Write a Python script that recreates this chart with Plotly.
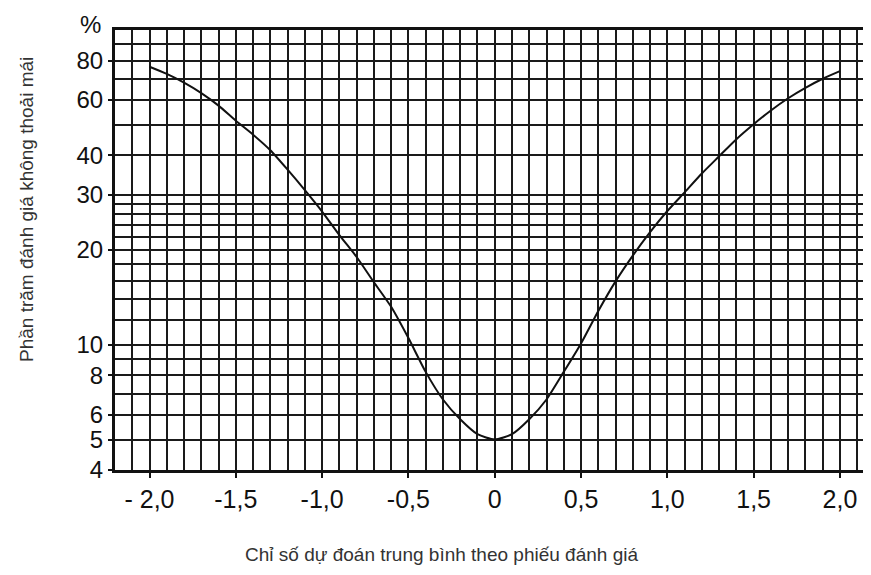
import math
import plotly.graph_objects as go

# --- data ---
pmv = [-2.0, -1.9, -1.8, -1.7, -1.6, -1.5, -1.4, -1.3, -1.2, -1.1, -1.0,
       -0.9, -0.8, -0.7, -0.6, -0.5, -0.4, -0.3, -0.2, -0.1, 0.0,
       0.1, 0.2, 0.3, 0.4, 0.5, 0.6, 0.7, 0.8, 0.9, 1.0,
       1.1, 1.2, 1.3, 1.4, 1.5, 1.6, 1.7, 1.8, 1.9, 2.0]
ppd = [76.4, 72.5, 68.0, 63.0, 57.5, 51.5, 46.5, 41.5, 36.0, 31.0, 26.5,
       22.3, 19.0, 15.8, 13.2, 10.5, 8.2, 6.7, 5.8, 5.2, 5.0,
       5.2, 5.8, 6.7, 8.2, 10.1, 12.8, 15.9, 19.2, 22.8, 26.6,
       30.5, 35.0, 39.7, 45.0, 50.2, 55.5, 60.7, 65.5, 70.0, 74.0]

x_tick_vals = [-2.0, -1.5, -1.0, -0.5, 0.0, 0.5, 1.0, 1.5, 2.0]
x_tick_text = ["- 2,0", "-1,5", "-1,0", "-0,5", "0", "0,5", "1,0", "1,5", "2,0"]
y_label_vals = [4, 5, 6, 8, 10, 20, 30, 40, 60, 80]
y_label_text = ["4", "5", "6", "8", "10", "20", "30", "40", "60", "80"]
y_extra_grid = [7, 9, 12, 14, 16, 18, 22, 24, 26, 28, 50, 70, 90, 100]

x_title = "Chỉ số dự đoán trung bình theo phiếu đánh giá"
y_title = "Phần trăm đánh giá không thoải mái"

GRID = "#1a1a1a"
NUM_FONT = "Liberation Sans, Arial, sans-serif"
TXT_FONT = "Liberation Sans, Arial, sans-serif"

fig = go.Figure()
fig.add_trace(go.Scatter(
    x=pmv, y=ppd, mode="lines",
    line=dict(color="#111111", width=2, shape="spline", smoothing=0.6),
    hoverinfo="skip", showlegend=False,
))

# page body has a default margin; figure is sized/offset to compensate
fig.update_layout(
    width=863, height=567,
    margin=dict(l=107, r=0, t=22, b=105, autoexpand=False),
    paper_bgcolor="white", plot_bgcolor="white",
    xaxis=dict(
        range=[-2.2, 2.18], automargin=False,
        tickmode="array", tickvals=x_tick_vals, ticktext=x_tick_text,
        tickfont=dict(family=NUM_FONT, size=25, color="#111"),
        ticks="outside", ticklen=5, tickwidth=2, tickcolor="#111",
        showgrid=True, gridcolor=GRID, gridwidth=1.8,
        minor=dict(dtick=0.1, tick0=0, showgrid=True, gridcolor=GRID,
                   gridwidth=1.8, ticks=""),
        showline=True, linecolor="#111", linewidth=3, mirror=True,
        zeroline=False, fixedrange=True,
    ),
    yaxis=dict(
        type="log", range=[math.log10(4), 2], automargin=False,
        tickmode="array", tickvals=y_label_vals, ticktext=y_label_text,
        tickfont=dict(family=NUM_FONT, size=24, color="#111"),
        ticks="outside", ticklen=4, tickwidth=2, tickcolor="#111",
        showgrid=True, gridcolor=GRID, gridwidth=1.8,
        minor=dict(tickmode="array", tickvals=y_extra_grid, showgrid=True,
                   gridcolor=GRID, gridwidth=1.8, ticks=""),
        showline=True, linecolor="#111", linewidth=3, mirror=True,
        zeroline=False, fixedrange=True,
    ),
    annotations=[
        dict(text="%", xref="paper", yref="paper", x=-0.032, y=1.012,
             xanchor="center", yanchor="middle", showarrow=False,
             borderpad=0,
             font=dict(family=NUM_FONT, size=24, color="#111")),
        dict(text=x_title, xref="paper", yref="paper", x=0.4325, y=-0.193,
             xanchor="center", yanchor="middle", showarrow=False,
             font=dict(family=TXT_FONT, size=19, color="#333")),
        dict(text=y_title, xref="paper", yref="paper", x=-0.1164, y=0.591,
             xanchor="center", yanchor="middle", showarrow=False, textangle=-90,
             font=dict(family=TXT_FONT, size=19, color="#333")),
    ],
)

fig.write_html("out.html")
